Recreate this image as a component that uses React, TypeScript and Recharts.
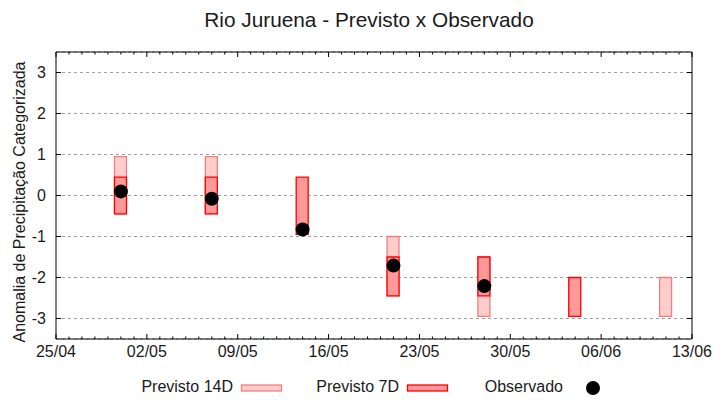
import { ComposedChart, Bar, Scatter, XAxis, YAxis, CartesianGrid } from 'recharts';

const DAY = 86400000;
const YEAR = 2024;
const toTime = (s: string) => {
  const [d, m] = s.split('/').map(Number);
  return Date.UTC(YEAR, m - 1, d);
};
const fmt = (t: number) => {
  const d = new Date(t);
  return String(d.getUTCDate()).padStart(2, '0') + '/' + String(d.getUTCMonth() + 1).padStart(2, '0');
};

// values
const dates = ['30/04', '07/05', '14/05', '21/05', '28/05', '04/06', '11/06'];
const prev14Low = [-0.45, -0.45, null, -2.45, -2.95, null, -2.95];
const prev14High = [0.95, 0.95, null, -1.0, -1.5, null, -2.0];
const prev7Low = [-0.45, -0.45, -0.95, -2.45, -2.45, -2.95, null];
const prev7High = [0.45, 0.45, 0.45, -1.5, -1.5, -2.0, null];
const observed = [0.1, -0.08, -0.83, -1.71, -2.21, null, null];

const xTickLabels = ['25/04', '02/05', '09/05', '16/05', '23/05', '30/05', '06/06', '13/06'];
const yTicks = [-3, -2, -1, 0, 1, 2, 3];

const majorTicks = xTickLabels.map(toTime);
const xStart = majorTicks[0];
const xEnd = majorTicks[majorTicks.length - 1];
const dayTicks: number[] = [];
for (let t = xStart; t <= xEnd; t += DAY) dayTicks.push(t);
const isMajor = (t: number) => majorTicks.includes(t);

const data = dates.map((d, i) => ({
  t: toTime(d),
  p14: prev14Low[i] == null ? undefined : [prev14Low[i], prev14High[i]],
  p7: prev7Low[i] == null ? undefined : [prev7Low[i], prev7High[i]],
  obs: observed[i] == null ? undefined : observed[i],
}));

const FONT = '"Liberation Sans", Arial, sans-serif';
const TXT = '#1a1a1a';

const BottomTick = (props: any) => {
  const { x, y, payload } = props;
  const major = isMajor(payload.value);
  return (
    <g>
      <line x1={x} x2={x} y1={y} y2={y - (major ? 5 : 2.5)} stroke="#000" />
      {major && (
        <text x={x} y={y + 18} textAnchor="middle" fontSize={16} fontFamily={FONT} fill={TXT}>
          {fmt(payload.value)}
        </text>
      )}
    </g>
  );
};

const TopTick = (props: any) => {
  const { x, y, payload } = props;
  const major = isMajor(payload.value);
  return <line x1={x} x2={x} y1={y} y2={y + (major ? 5 : 2.5)} stroke="#000" />;
};

const LeftTick = (props: any) => {
  const { x, y, payload } = props;
  return (
    <g>
      <line x1={x} x2={x + 5} y1={y} y2={y} stroke="#000" />
      <text x={x - 10} y={y} dy="0.35em" textAnchor="end" fontSize={16} fontFamily={FONT} fill={TXT}>
        {payload.value}
      </text>
    </g>
  );
};

const RightTick = (props: any) => {
  const { x, y } = props;
  return <line x1={x} x2={x - 5} y1={y} y2={y} stroke="#000" />;
};

const Dot = (props: any) => {
  const { cx, cy } = props;
  if (cx == null || cy == null || isNaN(cy)) return <g />;
  return <circle cx={cx} cy={cy} r={7} fill="#000" />;
};

export default function App() {
  return (
    <div style={{ position: 'absolute', left: 0, top: 0, width: 720, height: 400, background: '#fff' }}>
      <ComposedChart width={720} height={400} data={data} margin={{ top: 42, right: 20, bottom: 31, left: 16 }}>
        <CartesianGrid horizontal vertical={false} stroke="#a0a0a0" strokeDasharray="3 3" />
        <XAxis
          dataKey="t"
          type="number"
          scale="linear"
          domain={[xStart, xEnd]}
          ticks={dayTicks}
          interval={0}
          height={30}
          tickSize={0}
          tickMargin={0}
          tickLine={false}
          tick={BottomTick}
          axisLine={{ stroke: '#000' }}
          allowDataOverflow
        />
        <XAxis
          xAxisId="top"
          orientation="top"
          dataKey="t"
          type="number"
          scale="linear"
          domain={[xStart, xEnd]}
          ticks={dayTicks}
          interval={0}
          height={10}
          tickSize={0}
          tickMargin={0}
          tickLine={false}
          tick={TopTick}
          axisLine={{ stroke: '#000' }}
          allowDataOverflow
        />
        <YAxis
          type="number"
          domain={[-3.5, 3.5]}
          ticks={yTicks}
          interval={0}
          width={40}
          tickSize={0}
          tickMargin={0}
          tickLine={false}
          tick={LeftTick}
          axisLine={{ stroke: '#000' }}
          allowDataOverflow
        />
        <YAxis
          yAxisId="right"
          orientation="right"
          type="number"
          domain={[-3.5, 3.5]}
          ticks={yTicks}
          interval={0}
          width={8}
          tickSize={0}
          tickMargin={0}
          tickLine={false}
          tick={RightTick}
          axisLine={{ stroke: '#000' }}
          allowDataOverflow
        />
        <Bar dataKey="p14" barSize={12} fill="#ffcccc" stroke="#f08080" strokeWidth={1.3} isAnimationActive={false} />
        <Bar
          dataKey="p7"
          xAxisId="top"
          yAxisId="right"
          barSize={12}
          fill="#ff9999"
          stroke="#ff0000"
          strokeWidth={1.3}
          isAnimationActive={false}
        />
        <Scatter dataKey="obs" shape={Dot} isAnimationActive={false} />
      </ComposedChart>
      <svg width={720} height={400} style={{ position: 'absolute', left: 0, top: 0, pointerEvents: 'none' }}>
        <text x={369} y={27} textAnchor="middle" fontSize={20.8} fontFamily={FONT} fill={TXT}>
          Rio Juruena - Previsto x Observado
        </text>
        <text
          transform="translate(25,202) rotate(-90)"
          textAnchor="middle"
          fontSize={16}
          fontFamily={FONT}
          fill={TXT}
        >
          Anomalia de Precipitação Categorizada
        </text>
        <text x={233} y={392} textAnchor="end" fontSize={16} fontFamily={FONT} fill={TXT}>
          Previsto 14D
        </text>
        <rect x={241.5} y={385} width={40} height={6} fill="#ffcccc" stroke="#f08080" strokeWidth={1.3} />
        <text x={399} y={392} textAnchor="end" fontSize={16} fontFamily={FONT} fill={TXT}>
          Previsto 7D
        </text>
        <rect x={407.5} y={385} width={40} height={6} fill="#ff9999" stroke="#ff0000" strokeWidth={1.3} />
        <text x={563} y={392} textAnchor="end" fontSize={16} fontFamily={FONT} fill={TXT}>
          Observado
        </text>
        <circle cx={593} cy={388} r={7} fill="#000" />
      </svg>
    </div>
  );
}
